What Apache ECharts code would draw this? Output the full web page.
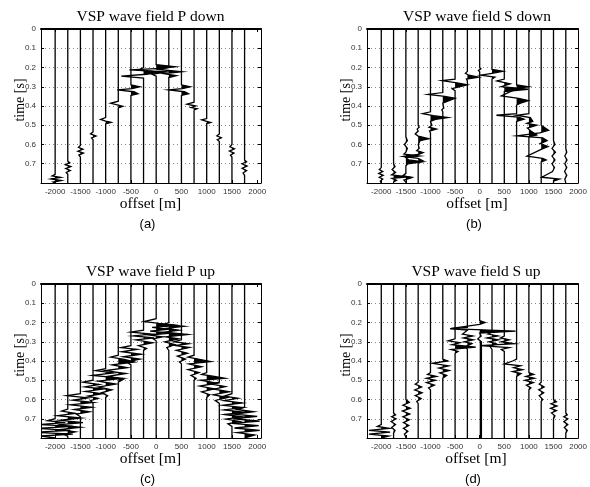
<!DOCTYPE html>
<html>
<head>
<meta charset="utf-8">
<script src="https://cdn.jsdelivr.net/npm/echarts@6/dist/echarts.min.js"></script>
<style>
  html, body { margin: 0; padding: 0; background: #fff; }
  #chart { width: 590px; height: 487px; }
</style>
</head>
<body>
<div id="chart"></div>
<script>
// receiver offsets of the traces [m]
const offsets = [-2000, -1750, -1500, -1250, -1000, -750, -500, -250, 0, 250, 500, 750, 1000, 1250, 1500, 1750];
const offsetTicks = [-2000, -1500, -1000, -500, 0, 500, 1000, 1500, 2000];
const timeTicks = [0, 0.1, 0.2, 0.3, 0.4, 0.5, 0.6, 0.7];
const titles = ["VSP wave field P down", "VSP wave field S down", "VSP wave field P up", "VSP wave field S up"];
const letters = ["(a)", "(b)", "(c)", "(d)"];

// each trace: [time s, deflection m] wiggle vertices
const pDownTraces = [
  [[0.755, 0], [0.763, -60], [0.771, 110], [0.779, -80], [0.787, 120], [0.795, -40], [0.8, 0]],
  [[0.685, 0], [0.695, 40], [0.705, -50], [0.715, 60], [0.725, -40], [0.735, 50], [0.745, -30], [0.755, 0]],
  [[0.605, 0], [0.615, -40], [0.625, 50], [0.635, -50], [0.645, 60], [0.655, -30], [0.665, 0]],
  [[0.535, 0], [0.545, -50], [0.556, 60], [0.566, -30], [0.575, 0]],
  [[0.46, 0], [0.47, -100], [0.478, 0], [0.485, 110], [0.493, 0]],
  [[0.375, 0], [0.386, -150], [0.395, 0], [0.402, 90], [0.41, 0]],
  [[0.29, 0], [0.3, 175], [0.31, 20], [0.316, -270], [0.326, 60], [0.336, 140], [0.345, 0]],
  [[0.2, 0], [0.213, -100], [0.224, 300], [0.235, 60], [0.245, -440], [0.255, 0]],
  [[0.185, 0], [0.196, 380], [0.205, 100], [0.212, -530], [0.222, 200], [0.235, -80], [0.245, 0]],
  [[0.2, 0], [0.21, -200], [0.222, 260], [0.232, -100], [0.242, 150], [0.252, 0]],
  [[0.29, 0], [0.3, 175], [0.31, 20], [0.316, -250], [0.326, 60], [0.336, 140], [0.345, 0]],
  [[0.38, 0], [0.39, -140], [0.4, 30], [0.408, -60], [0.414, 60], [0.42, 0]],
  [[0.465, 0], [0.472, -100], [0.48, 0], [0.486, 80], [0.492, 0]],
  [[0.545, 0], [0.555, -50], [0.565, 40], [0.575, -40], [0.585, 0]],
  [[0.6, 0], [0.612, -40], [0.622, 50], [0.634, -50], [0.645, 40], [0.655, -30], [0.665, 0]],
  [[0.68, 0], [0.69, 40], [0.7, -50], [0.712, 50], [0.724, -50], [0.736, 40], [0.748, -30], [0.76, 0]]
];

const sDownTraces = [
  [[0.72, 0], [0.73, -40], [0.74, 30], [0.75, -50], [0.76, 40], [0.77, -40], [0.78, 30], [0.79, -20], [0.8, 0]],
  [[0.7, 0], [0.715, 30], [0.73, -30], [0.745, 40], [0.758, -40], [0.768, 300], [0.776, -30], [0.786, 60], [0.795, 0]],
  [[0.56, 0], [0.58, 30], [0.6, -30], [0.62, 30], [0.64, 0], [0.65, -40], [0.66, 280], [0.668, 0], [0.68, 60], [0.69, 340], [0.7, 40], [0.71, 0], [0.75, 0], [0.762, -60], [0.772, 120], [0.785, -40], [0.795, 0]],
  [[0.5, 0], [0.51, 20], [0.52, -20], [0.53, 0], [0.545, -60], [0.556, 0], [0.57, 220], [0.58, 40], [0.6, 0], [0.62, 20], [0.632, -30], [0.642, 100], [0.652, 0], [0.662, -300], [0.672, 0], [0.685, 100], [0.695, 0]],
  [[0.43, 0], [0.44, -160], [0.45, 60], [0.46, 360], [0.47, 100], [0.48, 0], [0.5, 30], [0.51, -30], [0.52, 120], [0.53, -20], [0.54, 0]],
  [[0.33, 0], [0.34, -300], [0.35, 40], [0.36, 250], [0.375, 100], [0.385, 0], [0.41, 20], [0.42, -20], [0.43, 0]],
  [[0.26, 0], [0.268, -270], [0.28, 40], [0.29, 250], [0.3, 80], [0.31, -60], [0.32, 0]],
  [[0.22, 0], [0.23, -40], [0.24, 30], [0.25, 230], [0.26, -20], [0.27, 0]],
  [[0.2, 0], [0.207, 25], [0.215, -25], [0.222, 0]],
  [[0.21, 0], [0.22, 220], [0.23, 0], [0.24, -230], [0.25, 60], [0.26, 0]],
  [[0.26, 0], [0.27, -150], [0.285, 120], [0.3, -60], [0.313, 480], [0.325, 0]],
  [[0.29, 0], [0.3, 240], [0.31, 0], [0.348, -310], [0.36, 40], [0.372, 240], [0.385, 80], [0.395, 0], [0.44, 0], [0.448, -410], [0.458, 40], [0.468, 150], [0.48, 0]],
  [[0.44, 0], [0.448, -250], [0.46, 30], [0.48, 80], [0.49, -40], [0.5, 160], [0.515, -30], [0.53, 40], [0.55, 160], [0.56, 0]],
  [[0.5, 0], [0.526, 150], [0.54, -30], [0.555, -490], [0.565, 30], [0.58, 120], [0.595, -20], [0.61, 140], [0.625, 0], [0.66, -290], [0.672, 30], [0.68, 100], [0.69, 0]],
  [[0.58, 0], [0.6, 30], [0.62, -30], [0.64, 40], [0.66, -30], [0.68, 30], [0.7, -30], [0.72, 20], [0.74, -20], [0.77, -240], [0.78, 120], [0.79, 0]],
  [[0.62, 0], [0.64, 20], [0.66, -20], [0.68, 25], [0.7, -20], [0.72, 20], [0.74, -25], [0.76, 20], [0.78, -20], [0.8, 0]]
];

const pUpTraces = [
  [[0.7, 0], [0.71, -150], [0.72, 200], [0.73, -300], [0.74, 360], [0.75, -400], [0.76, 300], [0.77, -400], [0.78, 350], [0.79, -300], [0.8, 0]],
  [[0.65, 0], [0.66, -120], [0.672, 150], [0.684, -200], [0.696, 260], [0.708, -150], [0.72, 300], [0.732, -200], [0.744, 250], [0.756, -150], [0.768, 150], [0.78, -80], [0.79, 0]],
  [[0.57, 0], [0.58, -270], [0.592, 150], [0.604, -150], [0.616, 250], [0.628, -200], [0.64, 220], [0.652, -120], [0.664, 180], [0.676, -80], [0.69, 0]],
  [[0.5, 0], [0.51, -200], [0.522, 120], [0.534, -160], [0.546, 200], [0.558, -150], [0.57, 180], [0.582, -100], [0.594, 100], [0.606, -50], [0.62, 0]],
  [[0.44, 0], [0.45, -200], [0.462, 150], [0.475, -260], [0.49, 340], [0.505, -150], [0.52, 200], [0.535, -150], [0.55, 120], [0.565, -80], [0.58, 40], [0.59, 0]],
  [[0.37, 0], [0.38, -150], [0.392, 120], [0.405, 320], [0.42, -120], [0.435, 180], [0.45, -250], [0.465, 150], [0.48, -200], [0.495, 100], [0.51, 0]],
  [[0.32, 0], [0.33, -200], [0.34, 120], [0.352, -180], [0.365, 200], [0.378, -150], [0.39, 180], [0.405, -80], [0.42, 0]],
  [[0.24, 0], [0.25, -250], [0.26, 150], [0.27, -200], [0.28, 210], [0.29, -150], [0.305, 180], [0.32, -100], [0.335, 60], [0.345, 0]],
  [[0.18, 0], [0.195, -240], [0.205, 60], [0.215, 440], [0.225, -80], [0.235, 250], [0.245, -120], [0.255, 300], [0.265, -150], [0.275, 120], [0.285, -60], [0.295, 0]],
  [[0.2, 0], [0.21, -100], [0.22, 300], [0.23, -50], [0.24, 200], [0.25, -80], [0.262, 380], [0.275, -60], [0.285, 200], [0.3, -80], [0.315, 120], [0.33, -40], [0.345, 0]],
  [[0.29, 0], [0.3, -150], [0.31, 140], [0.32, -120], [0.33, 160], [0.345, -100], [0.36, 120], [0.375, -80], [0.39, 80], [0.405, -40], [0.415, 0]],
  [[0.37, 0], [0.38, -120], [0.39, 80], [0.403, 330], [0.415, -100], [0.43, 150], [0.445, -120], [0.46, 100], [0.475, -60], [0.49, 40], [0.5, 0]],
  [[0.46, 0], [0.47, -100], [0.48, 150], [0.49, 360], [0.5, -120], [0.515, 200], [0.53, -140], [0.545, 150], [0.56, -100], [0.575, 60], [0.59, 0]],
  [[0.51, 0], [0.52, -150], [0.533, 120], [0.546, -100], [0.56, 200], [0.575, -120], [0.59, 160], [0.605, -80], [0.62, 0]],
  [[0.57, 0], [0.582, -150], [0.594, 120], [0.606, -160], [0.618, 200], [0.63, -180], [0.642, 220], [0.654, -160], [0.666, 250], [0.678, -150], [0.69, 200], [0.702, -120], [0.714, 150], [0.726, -80], [0.74, 0]],
  [[0.64, 0], [0.652, -150], [0.664, 180], [0.676, -200], [0.688, 250], [0.7, -220], [0.712, 300], [0.724, -250], [0.736, 280], [0.748, -200], [0.76, 300], [0.772, -150], [0.784, 200], [0.8, 0]]
];

const sUpTraces = [
  [[0.73, 0], [0.74, -80], [0.75, 160], [0.76, -250], [0.77, 180], [0.78, -250], [0.79, 150], [0.8, 0]],
  [[0.67, 0], [0.68, 40], [0.69, -40], [0.7, 50], [0.715, -50], [0.73, 40], [0.745, -40], [0.76, 30], [0.775, 0]],
  [[0.6, 0], [0.615, 70], [0.63, -60], [0.645, 90], [0.66, -70], [0.675, 80], [0.69, -60], [0.705, 70], [0.72, -50], [0.735, 60], [0.75, -50], [0.765, 40], [0.78, -30], [0.795, 0]],
  [[0.51, 0], [0.52, -60], [0.535, 70], [0.55, -70], [0.565, 80], [0.58, -60], [0.595, 60], [0.61, -30], [0.62, 0]],
  [[0.46, 0], [0.47, -60], [0.48, 120], [0.49, -80], [0.5, 100], [0.512, -80], [0.525, 80], [0.54, -40], [0.55, 0]],
  [[0.39, 0], [0.4, 100], [0.412, -210], [0.425, 120], [0.437, -80], [0.45, 130], [0.462, -60], [0.475, 80], [0.49, 0]],
  [[0.285, 0], [0.295, -140], [0.305, 100], [0.315, -60], [0.328, 420], [0.34, -80], [0.35, 60], [0.36, 0]],
  [[0.225, 0], [0.232, -350], [0.24, 0], [0.26, -100], [0.27, 110], [0.28, -80], [0.29, 120], [0.3, -60], [0.31, 90], [0.325, -40], [0.34, 0]],
  [[0.19, 0], [0.2, 110], [0.21, 0], [0.232, -600], [0.245, 730], [0.255, 0], [0.27, 30], [0.285, -40], [0.3, 35], [0.8, 35]],
  [[0.25, 0], [0.26, -80], [0.27, 120], [0.28, -100], [0.29, 130], [0.3, -60], [0.31, 80], [0.325, -40], [0.34, 0]],
  [[0.27, 0], [0.28, -80], [0.29, 100], [0.3, -60], [0.31, 200], [0.32, -490], [0.33, 100], [0.34, -60], [0.35, 0]],
  [[0.39, 0], [0.4, -80], [0.415, -250], [0.425, 80], [0.435, -60], [0.445, 120], [0.455, -80], [0.465, 90], [0.48, 0]],
  [[0.46, 0], [0.47, 100], [0.48, -60], [0.49, 110], [0.5, -80], [0.512, 90], [0.525, -50], [0.54, 40], [0.55, 0]],
  [[0.51, 0], [0.52, -40], [0.535, 60], [0.55, -50], [0.565, 50], [0.58, -40], [0.6, 30], [0.61, 0]],
  [[0.6, 0], [0.612, 60], [0.622, -50], [0.634, 70], [0.646, -60], [0.658, 60], [0.67, -40], [0.685, 30], [0.7, 0]],
  [[0.67, 0], [0.68, 30], [0.69, -40], [0.7, 40], [0.715, -40], [0.73, 40], [0.745, -30], [0.76, 30], [0.775, 0]]
];

const panels = [
  { traces: pDownTraces, left: 41, top: 29, width: 220, xMin: -2280, xMax: 2075, cx: 150.5 },
  { traces: sDownTraces, left: 367, top: 29, width: 216, xMin: -2290, xMax: 2000, cx: 477 },
  { traces: pUpTraces, left: 41, top: 284, width: 220, xMin: -2280, xMax: 2075, cx: 150.5 },
  { traces: sUpTraces, left: 367, top: 284, width: 216, xMin: -2290, xMax: 2000, cx: 476 }
];
const TMAX = 0.8;
const PLOT_H = 154;

const chart = echarts.init(document.getElementById("chart"), null, { renderer: "canvas" });

// wiggle + variable-area fill of positive lobes
const makeRender = (traces) => (params, api) => {
  const x0 = api.value(0);
  const pts = [[0, 0]].concat(traces[params.dataIndex]).concat([[TMAX, 0]]);
  const fill = [];
  for (let k = 0; k < pts.length; k++) {
    const a = pts[k];
    fill.push([a[0], Math.max(a[1], 0)]);
    const b = pts[k + 1];
    if (b && a[1] * b[1] < 0) {
      fill.push([a[0] + (b[0] - a[0]) * (-a[1]) / (b[1] - a[1]), 0]);
    }
  }
  return {
    type: "group",
    children: [
      {
        type: "polygon",
        shape: { points: fill.map((p) => api.coord([x0 + p[1], p[0]])) },
        style: { fill: "#000" },
      },
      {
        type: "polyline",
        shape: { points: pts.map((p) => api.coord([x0 + p[1], p[0]])) },
        style: { stroke: "#000", lineWidth: 1.3, fill: null },
      },
    ],
  };
};

const grid = [];
const xAxis = [];
const yAxis = [];
const series = [];
const graphic = [];

const labelStyle = { fontSize: 8, color: "#333", fontFamily: "Liberation Sans" };
const serif = "Liberation Serif";
const plain = (v) => String(v);

panels.forEach((p, i) => {
  grid.push({ left: p.left, top: p.top, width: p.width, height: PLOT_H });

  xAxis.push({
    gridIndex: i, type: "value", min: p.xMin, max: p.xMax, position: "bottom",
    axisLine: { show: true, onZero: false, lineStyle: { color: "#000", width: 1 } },
    axisTick: { inside: true, length: 3, customValues: offsetTicks, lineStyle: { color: "#000" } },
    axisLabel: Object.assign({ customValues: offsetTicks, margin: 5, formatter: plain }, labelStyle),
    splitLine: { show: false },
  });
  xAxis.push({
    gridIndex: i, type: "value", min: p.xMin, max: p.xMax, position: "top",
    axisLine: { show: true, onZero: false, lineStyle: { color: "#000", width: 2 } },
    axisTick: { inside: true, length: 3, customValues: offsetTicks, lineStyle: { color: "#000" } },
    axisLabel: { show: false },
    splitLine: { show: false },
  });
  yAxis.push({
    gridIndex: i, type: "value", min: 0, max: TMAX, inverse: true, position: "left",
    axisLine: { show: true, onZero: false, lineStyle: { color: "#000", width: 1 } },
    axisTick: { inside: true, length: 3, customValues: timeTicks, lineStyle: { color: "#000" } },
    axisLabel: Object.assign({ customValues: timeTicks, margin: 5, formatter: plain }, labelStyle),
    splitLine: { show: true, lineStyle: { color: "#888", type: [1, 3], width: 1 } },
  });
  yAxis.push({
    gridIndex: i, type: "value", min: 0, max: TMAX, inverse: true, position: "right",
    axisLine: { show: true, onZero: false, lineStyle: { color: "#000", width: 1 } },
    axisTick: { inside: true, length: 3, customValues: timeTicks, lineStyle: { color: "#000" } },
    axisLabel: { show: false },
    splitLine: { show: false },
  });

  series.push({
    type: "custom",
    xAxisIndex: 2 * i,
    yAxisIndex: 2 * i,
    clip: true,
    silent: true,
    renderItem: makeRender(p.traces),
    encode: { x: 0, y: 1 },
    data: offsets.map((o) => [o, 0]),
  });

  const plotMid = p.top + PLOT_H / 2;
  graphic.push({
    type: "text", x: p.cx, y: p.top - 12.5,
    style: { text: titles[i], fontSize: 15.5, fontFamily: serif, fill: "#000", align: "center", verticalAlign: "middle" },
  });
  graphic.push({
    type: "text", x: p.cx, y: p.top + PLOT_H + 21,
    style: { text: "offset [m]", fontSize: 15.5, fontFamily: serif, fill: "#000", align: "center", verticalAlign: "middle" },
  });
  graphic.push({
    type: "text", x: p.cx - 3, y: p.top + PLOT_H + 41,
    style: { text: letters[i], fontSize: 13, fontFamily: "Liberation Sans", fill: "#000", align: "center", verticalAlign: "middle" },
  });
  graphic.push({
    type: "text", x: p.left - 21, y: plotMid - 6, rotation: Math.PI / 2,
    style: { text: "time [s]", fontSize: 14, fontFamily: serif, fill: "#000", align: "center", verticalAlign: "middle" },
  });
});

chart.setOption({
  animation: false,
  backgroundColor: "#fff",
  grid: grid,
  xAxis: xAxis,
  yAxis: yAxis,
  series: series,
  graphic: graphic,
});
</script>
</body>
</html>
